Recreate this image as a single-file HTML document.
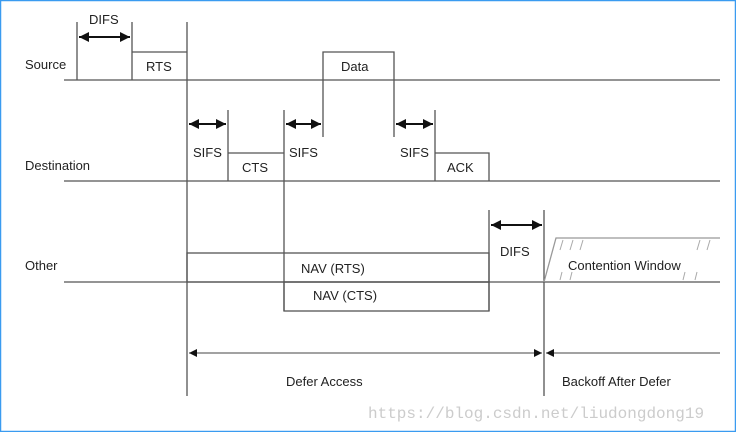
<!DOCTYPE html>
<html><head><style>body{margin:0;background:#fff}svg{display:block}</style></head><body>
<svg width="736" height="432" viewBox="0 0 736 432" xmlns="http://www.w3.org/2000/svg" font-family="Liberation Sans, sans-serif" font-size="13" fill="#222">
<rect x="0.5" y="0.5" width="735" height="431" fill="#fff" stroke="#3a9bf0" stroke-width="1.5"/>
<defs><marker id="a" viewBox="0 0 10 10" refX="10" refY="5" markerWidth="5" markerHeight="5" orient="auto-start-reverse"><path d="M0,0L10,5L0,10z" fill="#111"/></marker>
<marker id="b" viewBox="0 0 10 10" refX="10" refY="5" markerWidth="8" markerHeight="8" orient="auto-start-reverse"><path d="M0,0L10,5L0,10z" fill="#111"/></marker></defs>
<g stroke="#555" stroke-width="1.3" fill="none">
<line x1="64" y1="80" x2="720" y2="80"/>
<line x1="64" y1="181" x2="720" y2="181"/>
<line x1="64" y1="282" x2="720" y2="282"/>
<path d="M77 22V80M132 22V80M132 52H187V80M187 22V396"/>
<path d="M323 137V52H394V137"/>
<path d="M228 110V181M228 153H284M284 110V311M435 110V181M435 153H489V181"/>
<path d="M489 210V311M544 210V396"/>
<rect x="187" y="253" width="302" height="29"/>
<rect x="284" y="282" width="205" height="29"/>
<path d="M544 282L556 238H720" stroke="#999"/>
<path d="M563 240l-3 10M573 240l-3 10M583 240l-3 10M700 240l-3 10M710 240l-3 10M562 272l-2 8M572 272l-2 8M685 272l-2 8M697 272l-2 8" stroke="#aaa" stroke-width="1"/>
</g>
<g stroke="#111" stroke-width="2" fill="none" marker-start="url(#a)" marker-end="url(#a)">
<line x1="79" y1="37" x2="130" y2="37"/>
<line x1="189" y1="124" x2="226" y2="124"/>
<line x1="286" y1="124" x2="321" y2="124"/>
<line x1="396" y1="124" x2="433" y2="124"/>
<line x1="491" y1="225" x2="542" y2="225"/>
</g>
<g stroke="#444" stroke-width="1" fill="none" marker-start="url(#b)" marker-end="url(#b)">
<line x1="189" y1="353" x2="542" y2="353"/>
</g>
<line x1="546" y1="353" x2="720" y2="353" stroke="#444" stroke-width="1" marker-start="url(#b)"/>
<text x="25" y="69">Source</text>
<text x="25" y="170">Destination</text>
<text x="25" y="270">Other</text>
<text x="89" y="24">DIFS</text>
<text x="146" y="71">RTS</text>
<text x="341" y="71">Data</text>
<text x="193" y="157">SIFS</text>
<text x="242" y="172">CTS</text>
<text x="289" y="157">SIFS</text>
<text x="400" y="157">SIFS</text>
<text x="447" y="172">ACK</text>
<text x="500" y="256">DIFS</text>
<text x="301" y="273">NAV (RTS)</text>
<text x="313" y="300">NAV (CTS)</text>
<text x="568" y="270">Contention Window</text>
<text x="286" y="386">Defer Access</text>
<text x="562" y="386">Backoff After Defer</text>
<text x="368" y="418" font-family="Liberation Mono, monospace" font-size="16" fill="#ccc">https://blog.csdn.net/liudongdong19</text>
</svg>
</body></html>
